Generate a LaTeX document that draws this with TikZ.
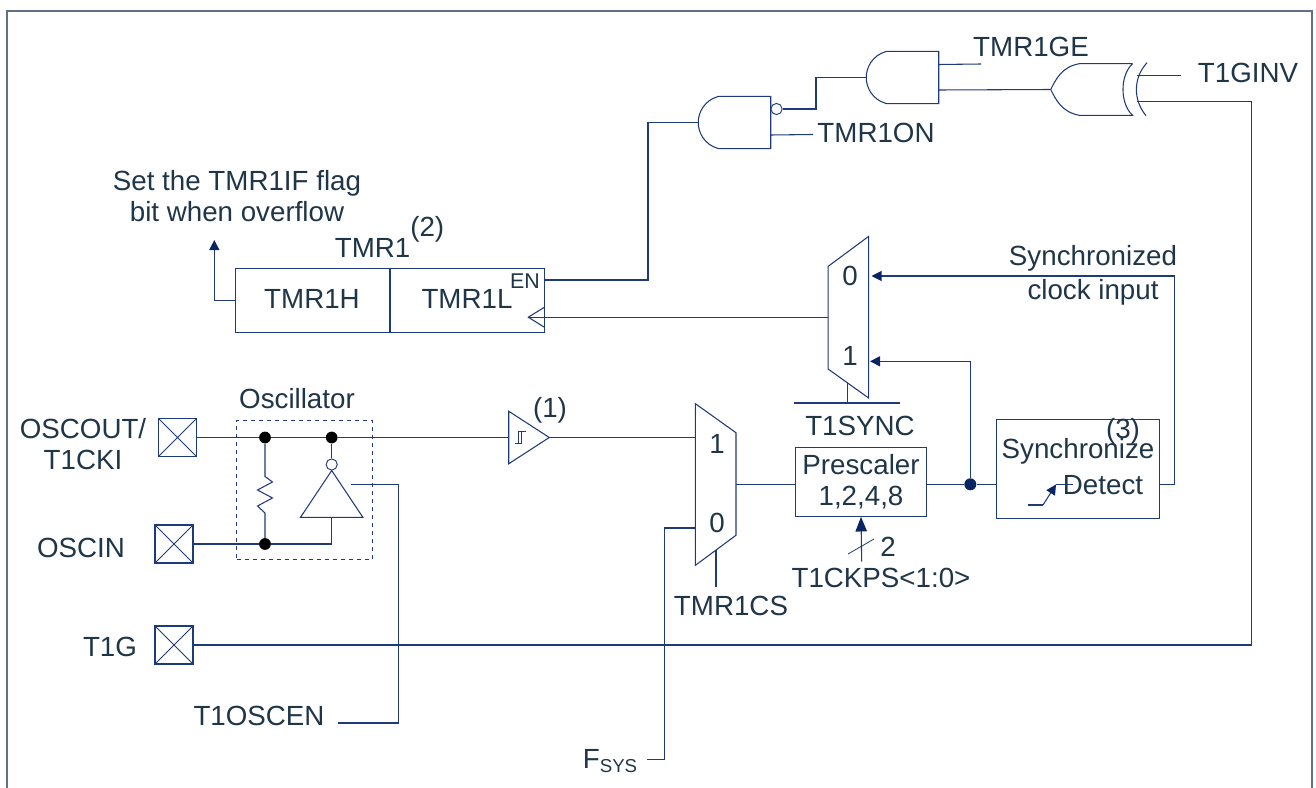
\documentclass[tikz,border=0pt]{standalone}
\usepackage{fontspec}
\setmainfont{Liberation Sans}
\usepackage{xcolor}
\usepackage{tikz}
\usetikzlibrary{positioning, arrows.meta, calc}
\definecolor{wirecol}{HTML}{1F3A7A}
\definecolor{tipcol}{HTML}{0B2463}
\definecolor{textcol}{HTML}{1F3548}
\definecolor{framecol}{HTML}{5F7186}

\newcommand{\andgate}[3]{
\node[gatebox={72}{51.6}](#1) at (#2,#3){};
\draw[wire] (#1.north east) -- ($(#1.north west)+(20,0)$) .. controls ($(#1.north west)+(6,4)$) and ($(#1.west)+(0,-10)$) .. (#1.west)
  .. controls ($(#1.west)+(0,10)$) and ($(#1.south west)+(6,-4)$) .. ($(#1.south west)+(20,0)$) -- (#1.south east) -- cycle;
\coordinate (#1up) at ($(#1.east)+(0,-13)$);
\coordinate (#1dn) at ($(#1.east)+(0,12.5)$);
}

\begin{document}
\begin{tikzpicture}[x=0.75pt, y=-0.75pt,
    wire/.style={draw=wirecol, line width=0.8pt},
    gatebox/.style 2 args={rectangle, inner sep=0pt, minimum width=#1*0.75pt, minimum height=#2*0.75pt},
    pinbox/.style={draw=wirecol, line width=0.8pt, rectangle, inner sep=0pt, minimum size=28.5pt,
        path picture={\draw[wirecol, line width=0.6pt] (path picture bounding box.north west) -- (path picture bounding box.south east)
        (path picture bounding box.south west) -- (path picture bounding box.north east);}},
    blockbox/.style={draw=wirecol, line width=0.8pt, rectangle, inner sep=0pt},
    lbl/.style={text=textcol, inner sep=0pt, align=center, font=\fontsize{20.8}{23.5}\selectfont},
    junction/.style={circle, fill=black, inner sep=0pt, minimum size=8.8pt},
    bubble/.style={circle, draw=wirecol, fill=white, line width=0.7pt, inner sep=0pt, minimum size=8.4pt},
    arrowed/.style={-{Triangle[length=7.5pt,width=7.5pt,color=tipcol]}}
]
\useasboundingbox (0,0) rectangle (1316,788);
\draw[framecol, line width=0.8pt] (7,788) -- (7,11) -- (1312,11) -- (1312,788);

% pins and their names
\node[pinbox](oscoutpin) at (177.5,437.5){};
\node[pinbox](oscinpin) at (174,544){};
\node[pinbox](tonegpin) at (174,645){};
\node[lbl](oscoutlbl) at (83,444){OSCOUT/\\T1CKI};
\node[lbl](oscinlbl) at (81,548){OSCIN};
\node[lbl](toneglbl) at (110,647){T1G};
\node[lbl](oscenlbl) at (259,716){T1OSCEN};
\node[lbl](fsyslbl) at (610,761){F\raisebox{-3pt}{\fontsize{14}{14}\selectfont SYS}};

% oscillator
\node[gatebox={135.5}{139}, draw=wirecol, dashed, line width=0.7pt](oscbox) at (304.3,489.5){};
\node[lbl](osclbl) at (297,399){Oscillator};
\node[junction](jrtop) at (265,437.5){};
\node[junction](jinv) at (331.7,437.5){};
\node[junction](jrbot) at (265,544){};
\node[gatebox={62}{46.3}](inverter) at (331.7,494){};
\draw[wire] (inverter.north) -- (inverter.south east) -- (inverter.south west) -- cycle;
\node[bubble](invbub) at (331.7,464.5){};
\draw[wire] (jinv) -- (invbub);
\draw[wire] (jrtop) -- (265,476.5) -- (272.5,482) -- (257.5,490) -- (272.5,498) -- (257.5,506) -- (265,513) -- (jrbot);
\draw[wire] (oscinpin) -- (jrbot) -| (inverter.south);

% schmitt buffer
\node[gatebox={40}{52}](schmitt) at (529,437.5){};
\draw[wire] (schmitt.north west) -- (schmitt.east) -- (schmitt.south west) -- cycle;
\draw[wirecol, line width=0.7pt] (515,443.5) -- (521,443.5) -- (521,431.5) (518.3,443.5) -- (518.3,431.5) -- (526,431.5);
\node[lbl](onelbl) at (550,410){(1)};
\draw[wire] (oscoutpin) -- (jrtop) -- (jinv) -- (schmitt.west);

% clock source mux
\node[gatebox={40}{161}](muxclk) at (715.7,484.5){};
\draw[wire] (muxclk.north west) -- ($(muxclk.north east)+(0,29)$) -- ($(muxclk.south east)+(0,-30)$) -- (muxclk.south west) -- cycle;
\node[lbl](muxclkone) at (717,444){1};
\node[lbl](muxclkzero) at (717,523){0};
\coordinate (fsysin) at (muxclk.west |- 0,528);
\coordinate (fsysend) at (647,759.3);
\draw[wire] (schmitt.east) -- (schmitt.east -| muxclk.west);
\draw[wire] (fsysin) -- (664.5,528) -- (664.5,759.3) -- (fsysend);
\coordinate (csend) at (716,586.5);
\draw[wire] (716,550) -- (csend);
\node[lbl](cslbl) at (731,606){TMR1CS};

% prescaler
\node[blockbox, minimum width=98.5pt, minimum height=51.7pt, lbl](presc) at (861,481.8){Prescaler\\1,2,4,8};
\draw[wire] (muxclk.east) -- (muxclk.east -| presc.west);
\coordinate (psend) at (861.7,561.7);
\draw[wire, -{Triangle[length=11pt,width=8.5pt,color=tipcol]}] (psend) -- (presc.south);
\draw[wire, line width=0.6pt] (848,554) -- (874,539);
\node[lbl](pstwo) at (888,547){2};
\node[lbl](pslbl) at (881,578){T1CKPS<1:0>};

% sync block
\node[blockbox, minimum width=122.2pt, minimum height=74.2pt](sync) at (1077.8,468.8){};
\node[lbl](synctxt) at (1078,451){Synchronize};
\node[lbl](detecttxt) at (1103,485){Detect};
\node[lbl](threelbl) at (1123,431){(3)};
\draw[wire] (1028,505) -- (1043,505);
\draw[wire, arrowed] (1043,505) -- (1056,484.5);
\draw[wire] (1056,484.3) -- (1073,484.3);
\node[circle, fill=tipcol, inner sep=0pt, minimum size=9pt](jsync) at (970.3,484.3){};
\draw[wire] (presc.east |- jsync) -- (jsync) -- (jsync -| sync.west);

% sync mux
\node[gatebox={40}{161}](muxsync) at (848.3,317.2){};
\draw[wire] ($(muxsync.north west)+(0,30)$) -- (muxsync.north east) -- (muxsync.south east) -- ($(muxsync.south west)+(0,-29)$) -- cycle;
\node[lbl](muxsyncz) at (850,276){0};
\node[lbl](muxsynco) at (850,356){1};
\coordinate (muxsyncin) at (871.5,276);
\coordinate (muxsyncjn) at (870,361.3);
\draw[wire, arrowed] (sync.east |- jsync) -- (1174.3,484.3) -- (1174.3,276) -- (muxsyncin);
\draw[wire, arrowed] (jsync) |- (muxsyncjn);
\node[lbl](synclk) at (1093,275){Synchronized\\[2pt]clock input};
\draw[wire] (847.7,383) -- (847.7,403);
\coordinate (barl) at (794.3,403);
\coordinate (barr) at (900,403);
\draw[wire] (barl) -- (barr);
\node[lbl](tsynclbl) at (860,426){T1SYNC};

% timer register
\node[blockbox, minimum width=231.5pt, minimum height=48pt](tmrbox) at (390,300.3){};
\draw[wire] (tmrbox.north) -- (tmrbox.south);
\node[lbl](tmrhlbl) at (312,299){TMR1H};
\node[lbl](tmrllbl) at (467,299){TMR1L};
\node[lbl, font=\fontsize{16}{18}\selectfont](enlbl) at (525,281){EN};
\node[lbl](tmrlbl) at (389.5,237){TMR1\raisebox{15.5pt}{(2)}};
\node[lbl](flaglbl) at (237,196){Set the TMR1IF flag\\bit when overflow};
\coordinate (ovfend) at (214.3,240);
\draw[wire, arrowed] (tmrbox.west) -| (ovfend);
\coordinate (clkmid) at (528.3,317.2);
\draw[wire] (544,307.5) -- (clkmid) -- (544,327);
\draw[wire] (muxsync.west) -- (clkmid);

% gates
\andgate{andon}{734.5}{122.5}
\andgate{andge}{902.5}{77.5}
\node[gatebox={81.3}{51.2}](xorinv) at (1091.65,89.5){};
\draw[wire] (xorinv.north east) -- ($(xorinv.north west)+(29,0)$) .. controls ($(xorinv.north west)+(11,3)$) and ($(xorinv.west)+(5,-10)$) .. (xorinv.west)
  .. controls ($(xorinv.west)+(5,10)$) and ($(xorinv.south west)+(11,-3)$) .. ($(xorinv.south west)+(29,0)$) -- (xorinv.south east)
  .. controls ($(xorinv.east)+(-12.8,14)$) and ($(xorinv.east)+(-12.8,-14)$) .. (xorinv.north east);
\coordinate (arctop) at (1147,62.7);
\coordinate (arcbot) at (1146,115.7);
\draw[wire] (arctop) .. controls (1133,78) and (1133,100) .. (arcbot);
\node[bubble](andbub) at (776.5,109){};
\coordinate (enwire) at (tmrbox.east |- 0,280);
\draw[wire] (enwire) -- (648,280) |- (andon.west);
\draw[wire] (andbub) -- (816,109) -- (816,77.5) -- (andge.west);
\coordinate (tmronend) at (813,134.5);
\draw[wire] (andondn) -- (tmronend);
\coordinate (tmrgeend) at (981,64);
\draw[wire] (andgeup) -- (tmrgeend);
\draw[wire] (andgedn) -- (xorinv.west);
\coordinate (tginvend) at (1181,75.7);
\draw[wire] (1137,75.7) -- (tginvend);
\draw[wire] (1137,101.3) -- (1251.7,101.3) |- (tonegpin);
\node[lbl](tmrgelbl) at (1031,47){TMR1GE};
\node[lbl](tmronlbl) at (876,133){TMR1ON};
\node[lbl](tginvlbl) at (1248,73){T1GINV};

% oscillator enable
\coordinate (oscenstart) at (351,484.3);
\draw[wire] (oscenstart) -- (398.7,484.3) -- (398.7,723) -- (338,723);
\end{tikzpicture}
\end{document}
